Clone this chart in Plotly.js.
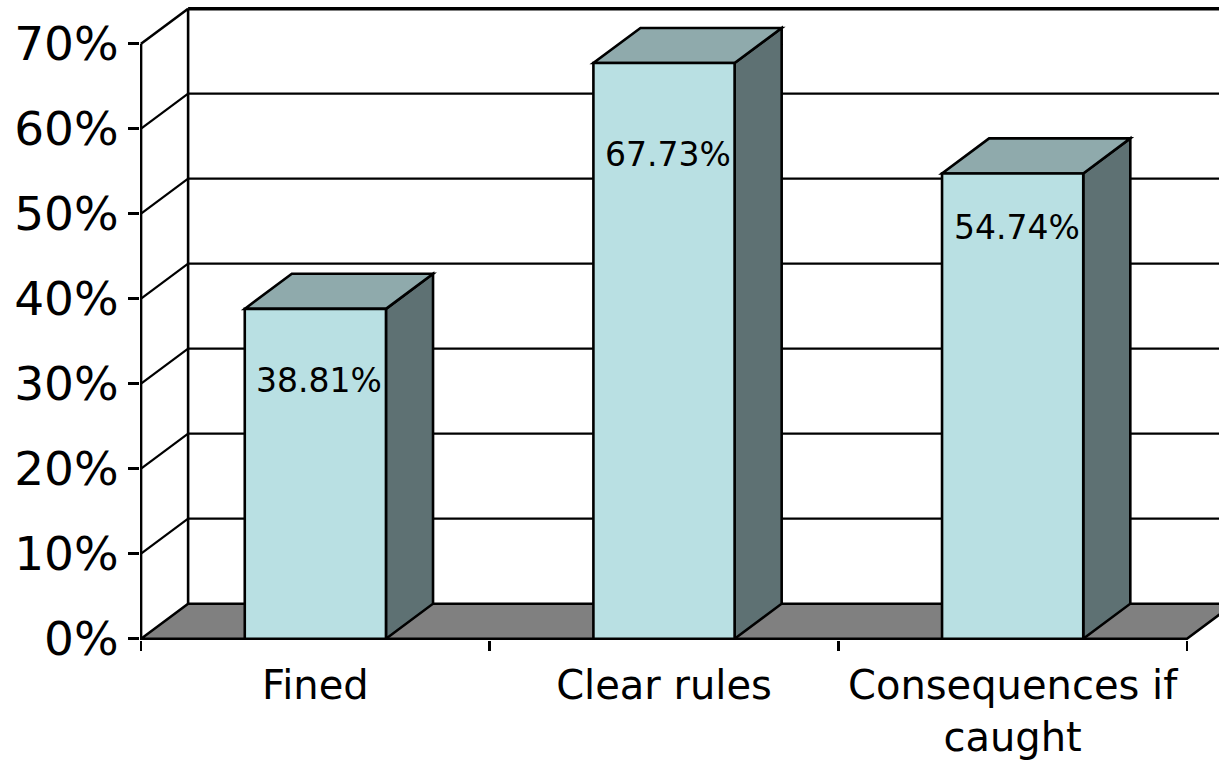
<!DOCTYPE html>
<html>
<head>
<meta charset="utf-8">
<script src="https://cdn.plot.ly/plotly-3.0.1.min.js"></script>
<style>
  html, body { margin: 0; padding: 0; overflow: hidden; background: #ffffff; }
  body { width: 1219px; height: 762px; }
</style>
</head>
<body>
<div id="chart"></div>
<script>
// Share of respondents naming each factor
const categories = ['Fined', 'Clear rules', 'Consequences if caught'];
const tickLabels = ['Fined', 'Clear rules', 'Consequences if<br>caught'];
const shares = [38.81, 67.73, 54.74];
const yTicks = [0, 10, 20, 30, 40, 50, 60, 70];
const yTickLabels = ['0%', '10%', '20%', '30%', '40%', '50%', '60%', '70%'];

// Box geometry for the 3-D look (depth offsets in axis units)
const DEPTH_X = 0.135;   // category units
const DEPTH_Y = 4.12;    // percent units
const BAR_W = 0.405;
const WALL_TOP = 70;
const LABEL_DROP = [72, 91, 54];   // px below the bar top

const FRONT = '#b9e0e3';
const TOP = '#8faaac';
const SIDE = '#5e7173';
const FLOOR = '#808080';
const INK = '#000000';
const LW = 2.6;

const L = -0.5, R = categories.length - 0.5;
const shapes = [];
const pt = (x, y) => x + ',' + y;

function line(x0, y0, x1, y1, w) {
  shapes.push({type: 'line', xref: 'x', yref: 'y', x0, y0, x1, y1,
    layer: 'below', line: {color: INK, width: w}});
}
function poly(points, fill, w) {
  const d = 'M' + points.map(p => pt(p[0], p[1])).join('L') + 'Z';
  shapes.push({type: 'path', xref: 'x', yref: 'y', path: d, layer: 'below',
    fillcolor: fill, line: {color: INK, width: w}});
}

// back wall gridlines and the matching diagonals on the side wall
yTicks.filter(v => v > 0 && v < WALL_TOP).forEach(v => {
  line(L + DEPTH_X, v + DEPTH_Y, R + DEPTH_X, v + DEPTH_Y, 2.2);
  line(L, v, L + DEPTH_X, v + DEPTH_Y, 2.2);
});
// wall outlines
line(L + DEPTH_X, DEPTH_Y, L + DEPTH_X, WALL_TOP + DEPTH_Y, LW);
line(L + DEPTH_X, WALL_TOP + DEPTH_Y, R + DEPTH_X + 0.2, WALL_TOP + DEPTH_Y, 3.5);
line(L, 0, L, WALL_TOP, LW);
line(L, WALL_TOP, L + DEPTH_X, WALL_TOP + DEPTH_Y, LW);
// floor
poly([[L, 0], [R, 0], [R + DEPTH_X, DEPTH_Y], [L + DEPTH_X, DEPTH_Y]], FLOOR, LW);

// side and top faces of each bar
shares.forEach((v, i) => {
  const x0 = i - BAR_W / 2, x1 = i + BAR_W / 2;
  poly([[x1, 0], [x1 + DEPTH_X, DEPTH_Y], [x1 + DEPTH_X, v + DEPTH_Y], [x1, v]], SIDE, LW);
  poly([[x0, v], [x1, v], [x1 + DEPTH_X, v + DEPTH_Y], [x0 + DEPTH_X, v + DEPTH_Y]], TOP, LW);
});

const annotations = shares.map((v, i) => ({
  xref: 'x', yref: 'y', x: i, y: v, yshift: -LABEL_DROP[i], xshift: 4,
  text: v.toFixed(2) + '%', showarrow: false,
  font: {family: 'DejaVu Sans', size: 33, color: INK}
}));

const trace = {
  type: 'bar', x: categories, y: shares, width: BAR_W,
  marker: {color: FRONT, line: {color: INK, width: LW}},
  hoverinfo: 'skip'
};

const layout = {
  width: 1260, height: 762,
  margin: {l: 140, r: 19, t: 7, b: 122},
  paper_bgcolor: '#ffffff', plot_bgcolor: 'rgba(0,0,0,0)',
  font: {family: 'DejaVu Sans', color: INK},
  showlegend: false,
  bargap: 0,
  xaxis: {
    type: 'category', categoryorder: 'array', categoryarray: categories,
    range: [L - 0.003, R + DEPTH_X + 0.02],
    tickmode: 'array', tickvals: categories, ticktext: tickLabels,
    tickson: 'boundaries', ticks: 'outside', ticklen: 10, tickwidth: LW, tickcolor: INK,
    tickangle: 0, ticklabelstandoff: 18,
    tickfont: {size: 40, color: INK},
    showgrid: false, zeroline: false, showline: false, fixedrange: true
  },
  yaxis: {
    range: [-0.15, WALL_TOP + DEPTH_Y + 0.2],
    tickmode: 'array', tickvals: yTicks, ticktext: yTickLabels,
    ticks: 'outside', ticklen: 11, tickwidth: LW, tickcolor: INK,
    ticklabelstandoff: 0,
    tickfont: {size: 47, color: INK},
    showgrid: false, zeroline: false, showline: false, fixedrange: true
  },
  shapes: shapes,
  annotations: annotations
};

Plotly.newPlot('chart', [trace], layout, {staticPlot: true, displayModeBar: false});
</script>
</body>
</html>
